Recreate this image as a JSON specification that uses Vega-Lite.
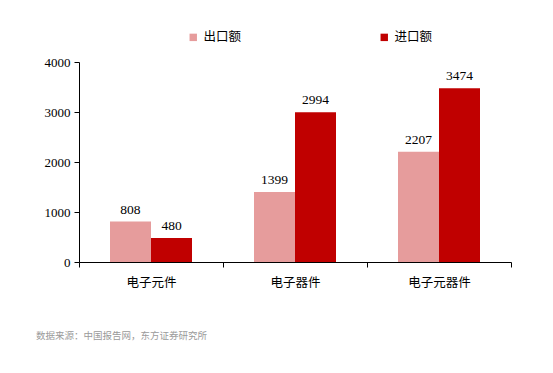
{
  "$schema": "https://vega.github.io/schema/vega-lite/v6.json",
  "width": 432,
  "height": 200,
  "autosize": {"type": "none"},
  "padding": {"left": 79, "top": 62, "right": 42, "bottom": 111},
  "background": "white",
  "title": {
    "text": "数据来源：中国报告网，东方证券研究所",
    "orient": "bottom",
    "anchor": "start",
    "frame": "group",
    "dx": -43,
    "offset": 42,
    "font": "Noto Sans CJK SC",
    "fontSize": 9.5,
    "fontWeight": "normal",
    "color": "#9a9a9a"
  },
  "data": {
    "values": [
      {"cat": "电子元件", "type": "出口额", "value": 808},
      {"cat": "电子元件", "type": "进口额", "value": 480},
      {"cat": "电子器件", "type": "出口额", "value": 1399},
      {"cat": "电子器件", "type": "进口额", "value": 2994},
      {"cat": "电子元器件", "type": "出口额", "value": 2207},
      {"cat": "电子元器件", "type": "进口额", "value": 3474}
    ]
  },
  "encoding": {
    "x": {
      "field": "cat",
      "type": "nominal",
      "sort": ["电子元件", "电子器件", "电子元器件"],
      "scale": {"paddingInner": 0, "paddingOuter": 0},
      "axis": {
        "title": null,
        "labelAngle": 0,
        "tickBand": "extent",
        "domainColor": "black",
        "tickColor": "black",
        "tickSize": 5,
        "labelFont": "Noto Sans CJK SC",
        "labelFontSize": 12.5,
        "labelColor": "black",
        "labelPadding": 9
      }
    },
    "xOffset": {
      "field": "type",
      "type": "nominal",
      "sort": ["出口额", "进口额"],
      "scale": {"paddingInner": 0, "paddingOuter": 0.756}
    },
    "y": {
      "field": "value",
      "type": "quantitative",
      "scale": {"domain": [0, 4000]},
      "axis": {
        "title": null,
        "grid": false,
        "format": "d",
        "values": [0, 1000, 2000, 3000, 4000],
        "domainColor": "black",
        "tickColor": "black",
        "tickSize": 5,
        "labelFont": "Liberation Serif",
        "labelFontSize": 13,
        "labelColor": "black",
        "labelPadding": 4
      }
    }
  },
  "layer": [
    {
      "mark": {"type": "bar"},
      "encoding": {
        "color": {
          "field": "type",
          "type": "nominal",
          "sort": ["出口额", "进口额"],
          "scale": {"domain": ["出口额", "进口额"], "range": ["#E69C9C", "#C00000"]},
          "legend": {
            "title": null,
            "orient": "none",
            "direction": "horizontal",
            "legendX": 108,
            "legendY": -31,
            "symbolType": "square",
            "symbolSize": 55,
            "symbolStrokeWidth": 0,
            "labelFont": "Noto Sans CJK SC",
            "labelFontSize": 12.5,
            "labelColor": "black",
            "labelOffset": 4,
            "columnPadding": 136
          }
        }
      }
    },
    {
      "mark": {"type": "text", "dy": -12, "font": "Liberation Serif", "fontSize": 13.5, "color": "black"},
      "encoding": {
        "text": {"field": "value", "type": "quantitative"}
      }
    }
  ],
  "config": {"view": {"stroke": null}}
}
